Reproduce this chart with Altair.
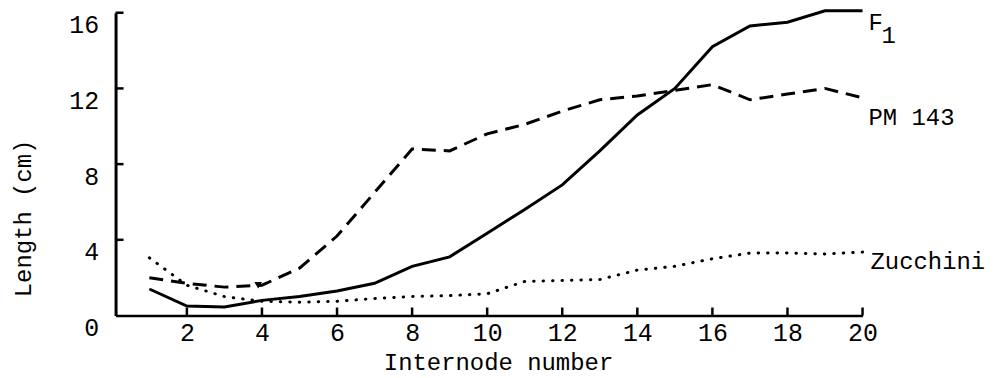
import altair as alt
import pandas as pd

# Data
internode = list(range(1, 21))
f1 = [1.4, 0.5, 0.45, 0.8, 1.0, 1.3, 1.7, 2.6, 3.1, 4.35, 5.6, 6.9, 8.7, 10.6, 12.0, 14.2, 15.3, 15.5, 16.1, 16.1]
pm143 = [2.0, 1.7, 1.5, 1.6, 2.5, 4.2, 6.5, 8.8, 8.7, 9.6, 10.1, 10.8, 11.4, 11.6, 11.9, 12.2, 11.4, 11.7, 12.0, 11.5]
zucchini = [3.05, 1.6, 1.0, 0.75, 0.7, 0.75, 0.9, 1.0, 1.05, 1.15, 1.8, 1.85, 1.9, 2.4, 2.6, 3.0, 3.3, 3.3, 3.25, 3.35]
x_ticks = [2, 4, 6, 8, 10, 12, 14, 16, 18, 20]
y_ticks = [0, 4, 8, 12, 16]
marker_x = [3.9]
marker_y = [1.6]

df = pd.DataFrame({
    "n": internode * 3,
    "len": f1 + pm143 + zucchini,
    "series": ["F1"] * 20 + ["PM 143"] * 20 + ["Zucchini"] * 20,
})

W, H = 750, 304
xs = alt.Scale(domain=[0.1, 20], nice=False, zero=False)
ys = alt.Scale(domain=[0, 16], nice=False)
MONO = "Liberation Mono"

base = alt.Chart(df)

xaxis = alt.Axis(values=x_ticks, tickSize=0, domainWidth=2.5, domainColor="black",
                 labelFont=MONO, labelFontSize=25, labelColor="black", labelPadding=5,
                 labelFlush=False, labelOverlap=False, grid=False,
                 title="Internode number", titleFont=MONO, titleFontSize=24,
                 titleFontWeight="normal", titleColor="black",
                 titleX=384, titleY=47, titleBaseline="middle", titleAlign="center")
yaxis = alt.Axis(values=y_ticks, tickSize=0, domainWidth=3, domainColor="black",
                 labelFont=MONO, labelFontSize=25, labelColor="black", labelPadding=17,
                 labelFlush=False, labelOverlap=False, labelBaseline="top",
                 grid=False,
                 title="Length (cm)", titleFont=MONO, titleFontSize=24,
                 titleFontWeight="normal", titleColor="black",
                 titleX=-92, titleY=206, titleBaseline="middle", titleAlign="center")

def line(name, dash):
    kw = dict(color="black", strokeWidth=3)
    if dash:
        kw["strokeDash"] = dash
    if name == "Zucchini":
        kw["strokeCap"] = "round"
    return base.transform_filter(alt.datum.series == name).mark_line(**kw).encode(
        x=alt.X("n:Q", scale=xs, axis=xaxis),
        y=alt.Y("len:Q", scale=ys, axis=yaxis),
    )

l_f1 = line("F1", None)
l_pm = line("PM 143", [14, 8])
l_zu = line("Zucchini", [0.5, 9])

tick_df = pd.DataFrame({"t": x_ticks})
xt = alt.Chart(tick_df).mark_rule(color="black", strokeWidth=2.5).encode(
    x=alt.X("t:Q", scale=xs), y=alt.value(H), y2=alt.value(H - 8))
ytick_df = pd.DataFrame({"t": y_ticks[1:]})
yt = alt.Chart(ytick_df).mark_rule(color="black", strokeWidth=2.5).encode(
    y=alt.Y("t:Q", scale=ys), x=alt.value(0), x2=alt.value(8))

mk = alt.Chart(pd.DataFrame({"x": marker_x, "y": marker_y})).mark_point(
    shape="triangle-down", filled=True, color="black", size=60, opacity=1).encode(
    x=alt.X("x:Q", scale=xs), y=alt.Y("y:Q", scale=ys))

last = base.transform_filter(alt.datum.n == 20)

def lab(name, text, dx, dy, size=24):
    return last.transform_filter(alt.datum.series == name).mark_text(
        text=text, font=MONO, fontSize=size, align="left", baseline="middle",
        dx=dx, dy=dy, color="black").encode(
        x=alt.X("n:Q", scale=xs), y=alt.Y("len:Q", scale=ys))

t_f = lab("F1", "F", 6, 12)
t_1 = lab("F1", "1", 19, 25)
t_pm = lab("PM 143", "PM 143", 6, 20)
t_zu = lab("Zucchini", "Zucchini", 8, 10)

chart = alt.layer(l_f1, l_pm, l_zu, xt, yt, mk, t_f, t_1, t_pm, t_zu).properties(
    width=W, height=H,
    autosize=alt.AutoSizeParams(type="none"),
    padding={"left": 108, "top": 4, "right": 135, "bottom": 62},
    background="white",
).configure_view(stroke=None)

chart.save("out.html", embed_options={"renderer": "svg", "actions": False})
